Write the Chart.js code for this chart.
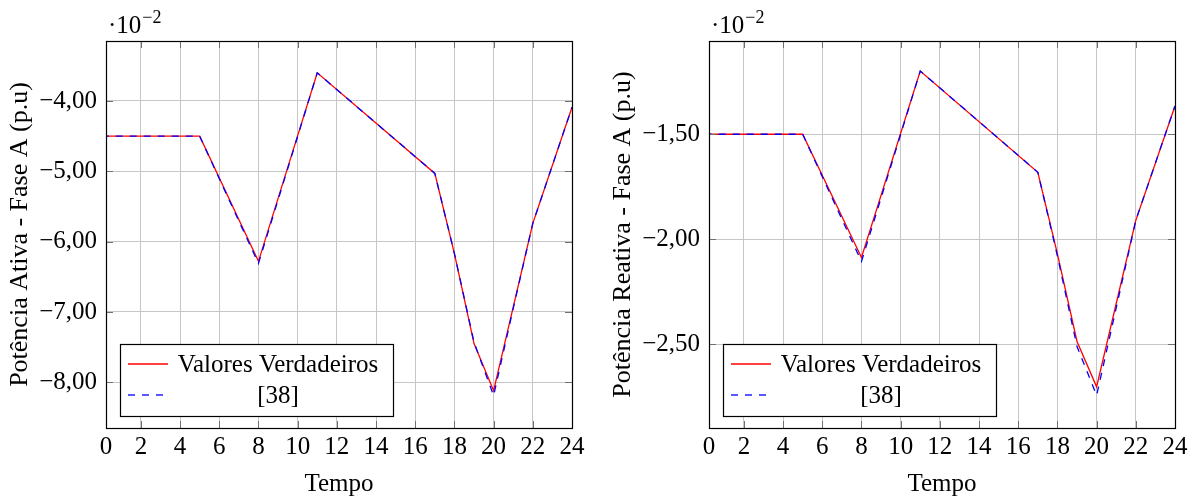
<!DOCTYPE html>
<html>
<head>
<meta charset="utf-8">
<script src="https://cdn.jsdelivr.net/npm/chart.js@4.4.1/dist/chart.umd.min.js"></script>
<style>
  body { margin: 0; background: #fff; }
  #wrap { position: relative; width: 1197px; height: 497px; }
  canvas { position: absolute; top: 0; }
</style>
</head>
<body>
<div id="wrap">
  <canvas id="ativa" width="598" height="497" style="left:0"></canvas>
  <canvas id="reativa" width="599" height="497" style="left:598px"></canvas>
</div>
<script>
// horas com mudança de inclinação
const horas = [0, 5, 8, 11, 17, 18, 19, 20, 21, 22, 24];

// potência ativa (x10^-2 p.u)
const ativaVerdadeiro = [-4.50, -4.50, -6.28, -3.60, -5.03, -6.17, -7.45, -8.12, -6.93, -5.74, -4.09];
const ativaRef38 = [-4.50, -4.50, -6.31, -3.60, -5.03, -6.17, -7.43, -8.19, -6.95, -5.74, -4.09];

// potência reativa (x10^-2 p.u)
const reativaVerdadeiro = [-1.50, -1.50, -2.087, -1.199, -1.681, -2.07, -2.487, -2.703, -2.306, -1.91, -1.365];
const reativaRef38 = [-1.50, -1.50, -2.106, -1.199, -1.681, -2.08, -2.511, -2.744, -2.327, -1.91, -1.365];

const xTicks = [0, 2, 4, 6, 8, 10, 12, 14, 16, 18, 20, 22, 24];
const yTicksAtiva = [-8, -7, -6, -5, -4];
const yTicksReativa = [-2.5, -2.0, -1.5];
const legendas = ['Valores Verdadeiros', '[38]'];

const FONTE = '"Liberation Serif", "Times New Roman", serif';

function pontos(xs, ys) {
  return xs.map((x, i) => ({ x: x, y: ys[i] }));
}

function fmt(v) {
  return (v < 0 ? '\u2212' : '') + Math.abs(v).toFixed(2).replace('.', ',');
}

// moldura, marcas internas, fator de escala e legenda
const moldura = {
  id: 'moldura',
  afterDraw(chart) {
    const { ctx, chartArea: a, scales } = chart;
    ctx.save();

    ctx.strokeStyle = '#707070';
    ctx.lineWidth = 1;
    ctx.beginPath();
    scales.x.ticks.forEach(t => {
      const px = Math.round(scales.x.getPixelForValue(t.value)) + 0.5;
      ctx.moveTo(px, a.top); ctx.lineTo(px, a.top + 7);
      ctx.moveTo(px, a.bottom); ctx.lineTo(px, a.bottom - 7);
    });
    scales.y.ticks.forEach(t => {
      const py = Math.round(scales.y.getPixelForValue(t.value)) + 0.5;
      ctx.moveTo(a.left, py); ctx.lineTo(a.left + 7, py);
      ctx.moveTo(a.right, py); ctx.lineTo(a.right - 7, py);
    });
    ctx.stroke();

    ctx.strokeStyle = '#000';
    ctx.lineWidth = 1.2;
    ctx.strokeRect(a.left + 0.5, a.top + 0.5, a.right - a.left, a.bottom - a.top);

    // ·10^-2
    ctx.fillStyle = '#000';
    ctx.textBaseline = 'alphabetic';
    ctx.textAlign = 'left';
    ctx.font = '25px ' + FONTE;
    ctx.fillText('\u00b710', a.left + 2, 33);
    const w = ctx.measureText('\u00b710').width;
    ctx.font = '18px ' + FONTE;
    ctx.fillText('\u22122', a.left + 3 + w, 23);

    // legenda
    const ds = chart.data.datasets;
    const x0 = a.left + 14, y1 = a.bottom - 12, y0 = y1 - 72;
    ctx.fillStyle = '#fff';
    ctx.fillRect(x0, y0, 273, 72);
    ctx.strokeStyle = '#000';
    ctx.lineWidth = 1.2;
    ctx.strokeRect(x0 + 0.5, y0 + 0.5, 273, 72);

    ctx.font = '25px ' + FONTE;
    ctx.textBaseline = 'middle';
    ds.forEach((d, i) => {
      const yy = y0 + 20 + i * 31;
      ctx.strokeStyle = d.borderColor;
      ctx.lineWidth = d.borderWidth;
      ctx.setLineDash(d.borderDash || []);
      ctx.beginPath();
      ctx.moveTo(x0 + 8, yy);
      ctx.lineTo(x0 + 48, yy);
      ctx.stroke();
      ctx.setLineDash([]);
      ctx.fillStyle = '#000';
      ctx.textAlign = 'center';
      ctx.fillText(d.label, x0 + 158, yy + 1);
    });
    ctx.restore();
  }
};

function grafico(id, yVerd, yRef, yMin, yMax, yTicks, titulo, yLargura, padDir, tituloPad) {
  return new Chart(document.getElementById(id), {
    type: 'line',
    data: {
      datasets: [
        {
          label: legendas[0],
          data: pontos(horas, yVerd),
          borderColor: '#ff0000',
          borderWidth: 1.3,
          pointRadius: 0,
          tension: 0,
          order: 2
        },
        {
          label: legendas[1],
          data: pontos(horas, yRef),
          borderColor: '#0000ff',
          borderWidth: 1.3,
          borderDash: [7, 7],
          pointRadius: 0,
          tension: 0,
          order: 1
        }
      ]
    },
    options: {
      responsive: false,
      animation: false,
      layout: { padding: { top: 41, right: padDir, left: 0, bottom: 0 } },
      plugins: { legend: { display: false }, tooltip: { enabled: false } },
      scales: {
        x: {
          type: 'linear',
          min: 0.22,
          max: 24,
          afterBuildTicks: s => { s.ticks = xTicks.map(v => ({ value: Math.max(v, s.min) })); },
          afterFit: s => { s.height = 69; },
          ticks: {
            autoSkip: false,
            maxRotation: 0,
            padding: 4,
            color: '#000',
            font: { family: FONTE, size: 25 },
            callback: (v, i) => String(xTicks[i])
          },
          grid: { color: '#c6c6c6', lineWidth: 1, drawTicks: false },
          border: { display: false },
          title: {
            display: true,
            text: 'Tempo',
            color: '#000',
            font: { family: FONTE, size: 25, lineHeight: 1 },
            padding: { top: 0, bottom: 0 }
          }
        },
        y: {
          min: yMin,
          max: yMax,
          afterBuildTicks: s => { s.ticks = yTicks.map(v => ({ value: v })); },
          afterFit: s => { s.width = yLargura; },
          ticks: {
            padding: 9,
            color: '#000',
            font: { family: FONTE, size: 25 },
            callback: v => fmt(v)
          },
          grid: { color: '#c6c6c6', lineWidth: 1, drawTicks: false },
          border: { display: false },
          title: {
            display: true,
            text: titulo,
            color: '#000',
            font: { family: FONTE, size: 26 },
            padding: { top: tituloPad, bottom: 0 }
          }
        }
      }
    },
    plugins: [moldura]
  });
}

grafico('ativa', ativaVerdadeiro, ativaRef38, -8.65, -3.147, yTicksAtiva,
  'Potência Ativa - Fase A (p.u)', 106, 26, 5);
grafico('reativa', reativaVerdadeiro, reativaRef38, -2.899, -1.056, yTicksReativa,
  'Potência Reativa - Fase A (p.u)', 111, 22, 10);
</script>
</body>
</html>
